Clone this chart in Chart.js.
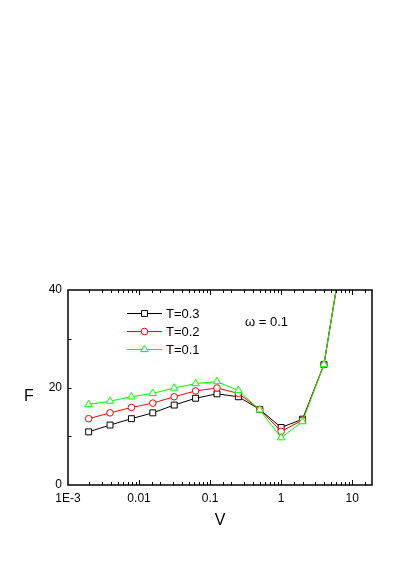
<!DOCTYPE html>
<html><head><meta charset="utf-8">
<script src="https://cdn.jsdelivr.net/npm/chart.js@4/dist/chart.umd.min.js"></script>
<style>html,body{margin:0;padding:0;background:#fff;}canvas{display:block;}</style>
</head><body>
<canvas id="c" width="409" height="582"></canvas>
<script>
// ---- data ----
const vValues = [0.001953125, 0.00390625, 0.0078125, 0.015625, 0.03125, 0.0625, 0.125, 0.25, 0.5, 1, 2, 4, 8];
const fT03 = [10.9, 12.3, 13.6, 14.8, 16.4, 17.8, 18.7, 18.1, 15.5, 11.8, 13.5, 24.7, 51.5];
const fT02 = [13.6, 14.8, 15.9, 16.8, 18.1, 19.3, 19.9, 18.8, 15.5, 11.0, 13.3, 24.7, 51.5];
const fT01 = [16.5, 17.2, 18.1, 18.8, 19.9, 20.8, 21.2, 19.4, 15.4, 9.7, 13.0, 24.7, 51.5];
const seriesLabels = ['T=0.3', 'T=0.2', 'T=0.1'];
const xTickValues = [0.001, 0.01, 0.1, 1, 10];
const xTickText = ['1E-3', '0.01', '0.1', '1', '10'];
const yTickValues = [0, 20, 40];
const yMinorTicks = [10, 20, 30];
const annotationText = 'ω = 0.1';
const xTitle = 'V';
const yTitle = 'F';

const FONT = '"Liberation Sans", Arial, sans-serif';
Chart.defaults.color = '#000';
Chart.defaults.font.family = FONT;

function pts(ys) { return vValues.map((v, i) => ({x: v, y: ys[i]})); }

const styles = [
  {color: '#000000', style: 'rect', r: 4.2},
  {color: '#ff0000', style: 'circle', r: 3.3},
  {color: '#00ff00', style: 'triangle', r: 4.3}
];
const series = [fT03, fT02, fT01];

const datasets = series.map((s, i) => ({
  label: seriesLabels[i],
  data: pts(s),
  borderColor: styles[i].color,
  borderWidth: 1,
  pointStyle: styles[i].style,
  pointRadius: styles[i].r,
  pointBorderColor: styles[i].color,
  pointBackgroundColor: '#ffffff',
  pointBorderWidth: 1,
  tension: 0,
  clip: 0,
  order: 2 - i
}));

function drawMarker(ctx, style, x, y, r) {
  ctx.beginPath();
  if (style === 'rect') {
    const s = r * Math.SQRT1_2;
    ctx.rect(x - s, y - s, 2 * s, 2 * s);
  } else if (style === 'circle') {
    ctx.arc(x, y, r, 0, Math.PI * 2);
  } else {
    let a = 0;
    ctx.moveTo(x + Math.sin(a) * r, y - Math.cos(a) * r);
    a += 2 * Math.PI / 3;
    ctx.lineTo(x + Math.sin(a) * r, y - Math.cos(a) * r);
    a += 2 * Math.PI / 3;
    ctx.lineTo(x + Math.sin(a) * r, y - Math.cos(a) * r);
    ctx.closePath();
  }
  ctx.fillStyle = '#fff';
  ctx.fill();
  ctx.stroke();
}

const framePlugin = {
  id: 'frame',
  afterDraw(chart) {
    const {ctx, chartArea: a, scales} = chart;
    ctx.save();
    ctx.strokeStyle = '#000';
    ctx.lineWidth = 1;
    // ticks x (bottom & top, inward)
    const xs = scales.x;
    xs.ticks.forEach(t => {
      const v = t.value;
      if (v <= xs.min * 1.0001 || v >= xs.max * 0.9999) return;
      const lg = Math.log10(v);
      const major = Math.abs(lg - Math.round(lg)) < 1e-6;
      const len = major ? 5 : 3;
      const px = Math.round(xs.getPixelForValue(v)) + 0.5;
      ctx.beginPath();
      ctx.moveTo(px, a.bottom); ctx.lineTo(px, a.bottom - len);
      ctx.moveTo(px, a.top); ctx.lineTo(px, a.top + len);
      ctx.stroke();
    });
    // ticks y (left, inward)
    const ys = scales.y;
    yMinorTicks.forEach(v => {
      const py = Math.round(ys.getPixelForValue(v)) + 0.5;
      ctx.beginPath();
      ctx.moveTo(a.left, py); ctx.lineTo(a.left + 3.5, py);
      ctx.stroke();
    });
    // frame
    ctx.lineWidth = 1.5;
    ctx.strokeRect(a.left, a.top, a.right - a.left, a.bottom - a.top);

    // y title (upright)
    ctx.fillStyle = '#000';
    ctx.font = '16px ' + FONT;
    ctx.textAlign = 'center';
    ctx.textBaseline = 'middle';
    ctx.fillText(yTitle, 29, 397);

    // annotation
    ctx.font = '13px ' + FONT;
    ctx.textAlign = 'left';
    ctx.fillText(annotationText, 245, 322);

    // legend
    const rows = [313.5, 331.5, 349.5];
    chart.data.datasets.forEach((ds, i) => {
      const y = rows[i];
      ctx.strokeStyle = ds.borderColor;
      ctx.lineWidth = 1;
      ctx.beginPath();
      ctx.moveTo(127, y); ctx.lineTo(162, y);
      ctx.stroke();
      drawMarker(ctx, ds.pointStyle, 144.5, y, ds.pointRadius);
      ctx.fillStyle = '#000';
      ctx.font = '13px ' + FONT;
      ctx.textAlign = 'left';
      ctx.textBaseline = 'middle';
      ctx.fillText(ds.label, 166, y + 0.5);
    });
    ctx.restore();
  }
};

new Chart(document.getElementById('c'), {
  type: 'line',
  data: {datasets},
  options: {
    responsive: false,
    animation: false,
    devicePixelRatio: 1,
    layout: {padding: {top: 290, right: 37, bottom: 0, left: 0}},
    plugins: {legend: {display: false}, tooltip: {enabled: false}},
    scales: {
      x: {
        type: 'logarithmic',
        min: 0.001,
        max: 19,
        grid: {display: false, drawTicks: false},
        border: {display: false},
        ticks: {
          autoSkip: false, maxRotation: 0, minRotation: 0, padding: 6,
          font: {size: 12},
          callback: function (value) {
            for (let i = 0; i < xTickValues.length; i++) {
              if (Math.abs(value - xTickValues[i]) < xTickValues[i] * 1e-6) return xTickText[i];
            }
            return '';
          }
        },
        title: {display: true, text: xTitle, font: {size: 16}, padding: {top: 0, bottom: 52}},
        afterFit(scale) { scale.height = 97; }
      },
      y: {
        type: 'linear',
        min: 0,
        max: 40,
        grid: {display: false, drawTicks: false},
        border: {display: false},
        ticks: {
          stepSize: 10, padding: 6, font: {size: 12},
          callback: v => (yTickValues.includes(v) ? String(v) : '')
        },
        afterFit(scale) { scale.width = 68; }
      }
    }
  },
  plugins: [framePlugin]
});
</script>
</body></html>
